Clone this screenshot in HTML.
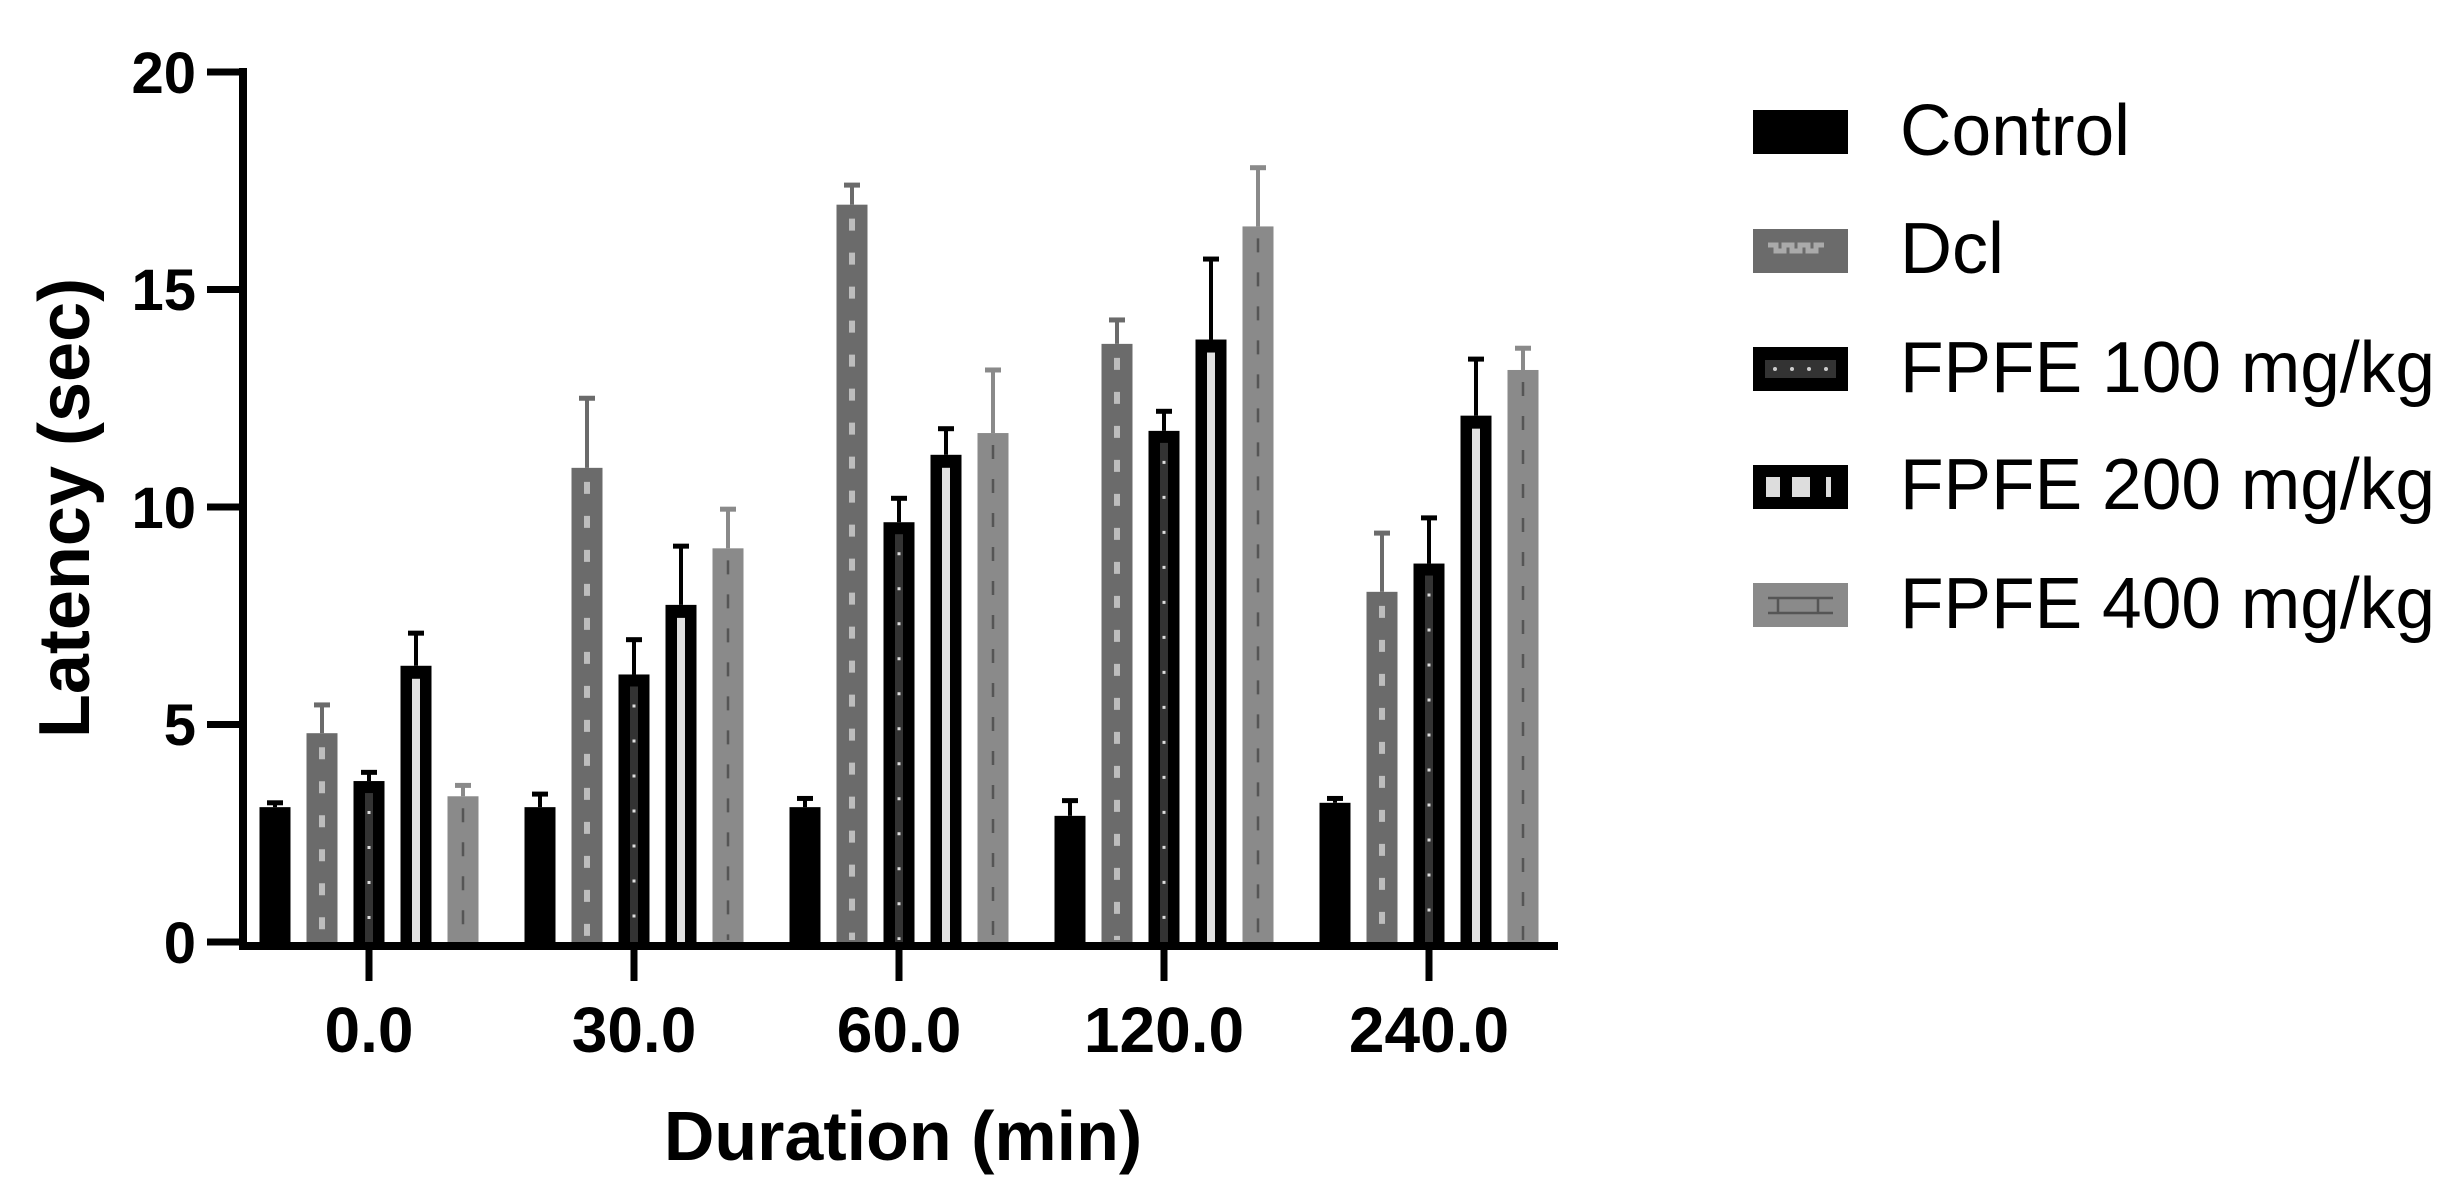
<!DOCTYPE html>
<html><head><meta charset="utf-8"><style>
html,body{margin:0;padding:0;background:#fff;}
svg{display:block;}
text{font-family:"Liberation Sans",Arial,sans-serif;}
</style></head><body>
<svg id="s" width="2464" height="1192" viewBox="0 0 2464 1192" xmlns="http://www.w3.org/2000/svg">
<rect width="2464" height="1192" fill="#fff"/>
<g id="bars"></g>
<!-- axes -->
<line x1="243" y1="68" x2="243" y2="946" stroke="#000" stroke-width="8"/>
<line x1="239" y1="946" x2="1558" y2="946" stroke="#000" stroke-width="8"/>
<g stroke="#000" stroke-width="7">
<line x1="207" y1="72" x2="243" y2="72"/>
<line x1="207" y1="289.5" x2="243" y2="289.5"/>
<line x1="207" y1="507" x2="243" y2="507"/>
<line x1="207" y1="724.5" x2="243" y2="724.5"/>
<line x1="207" y1="942" x2="243" y2="942"/>
<line x1="369" y1="946" x2="369" y2="981"/>
<line x1="634" y1="946" x2="634" y2="981"/>
<line x1="899" y1="946" x2="899" y2="981"/>
<line x1="1164" y1="946" x2="1164" y2="981"/>
<line x1="1429" y1="946" x2="1429" y2="981"/>
</g>
<g font-weight="bold" font-size="58" text-anchor="end">
<text x="196" y="93">20</text>
<text x="196" y="310">15</text>
<text x="196" y="528">10</text>
<text x="196" y="745">5</text>
<text x="196" y="963">0</text>
</g>
<g font-weight="bold" font-size="64" text-anchor="middle">
<text x="369" y="1052">0.0</text>
<text x="634" y="1052">30.0</text>
<text x="899" y="1052">60.0</text>
<text x="1164" y="1052">120.0</text>
<text x="1429" y="1052">240.0</text>
</g>
<text x="903" y="1160" font-weight="bold" font-size="70" text-anchor="middle">Duration (min)</text>
<text transform="translate(89,508) rotate(-90)" font-weight="bold" font-size="72" text-anchor="middle">Latency (sec)</text>
<!-- legend -->
<rect x="1753" y="110" width="95" height="44" fill="#000"/>
<rect x="1753" y="229" width="95" height="44" fill="#6b6b6b"/>
<path d="M1768 245 h8 v6 h8 v-6 h8 v6 h8 v-6 h8 v6 h8 v-6 h8" stroke="#aaa" stroke-width="5" fill="none"/>
<rect x="1753" y="347" width="95" height="44" fill="#000"/>
<rect x="1765" y="360" width="71" height="18" fill="#333"/>
<g fill="#ccc"><circle cx="1775" cy="369" r="2"/><circle cx="1792" cy="369" r="2"/><circle cx="1809" cy="369" r="2"/><circle cx="1826" cy="369" r="2"/></g>
<rect x="1753" y="465" width="95" height="44" fill="#000"/>
<rect x="1766" y="477" width="14" height="20" fill="#ddd"/>
<rect x="1792" y="477" width="18" height="20" fill="#ddd"/>
<rect x="1826" y="477" width="5" height="20" fill="#ddd"/>
<rect x="1753" y="583" width="95" height="44" fill="#8a8a8a"/>
<path d="M1768 598 h65 M1768 613 h65 M1778 598 v15 M1818 598 v15" stroke="#555" stroke-width="2.5" fill="none"/>
<g font-size="72">
<text x="1900" y="155" textLength="230" lengthAdjust="spacingAndGlyphs">Control</text>
<text x="1900" y="273">Dcl</text>
<text x="1900" y="392" textLength="535" lengthAdjust="spacingAndGlyphs">FPFE 100 mg/kg</text>
<text x="1900" y="509" textLength="535" lengthAdjust="spacingAndGlyphs">FPFE 200 mg/kg</text>
<text x="1900" y="628" textLength="535" lengthAdjust="spacingAndGlyphs">FPFE 400 mg/kg</text>
</g>
</svg>
<script>
var data=[
[[3.1,3.2],[4.8,5.45],[3.7,3.9],[6.35,7.1],[3.35,3.6]],
[[3.1,3.4],[10.9,12.5],[6.15,6.95],[7.75,9.1],[9.05,9.95]],
[[3.1,3.3],[16.95,17.4],[9.65,10.2],[11.2,11.8],[11.7,13.15]],
[[2.9,3.25],[13.75,14.3],[11.75,12.2],[13.85,15.7],[16.45,17.8]],
[[3.2,3.3],[8.05,9.4],[8.7,9.75],[12.1,13.4],[13.15,13.65]]];
var C=[369,634,899,1164,1429],off=[-94,-47,0,47,94];
function y(v){return 942-43.5*v;}
var h='';
for(var g=0;g<5;g++)for(var s=0;s<5;s++){
 var cx=C[g]+off[s],x=cx-15.5,w=31,t=y(data[g][s][0]),e=y(data[g][s][1]),bh=942-t;
 var ec='#000';
 if(s==0){h+='<rect x="'+x+'" y="'+t+'" width="'+w+'" height="'+bh+'" fill="#000"/>';}
 if(s==1){ec='#6b6b6b';h+='<rect x="'+x+'" y="'+t+'" width="'+w+'" height="'+bh+'" fill="#6b6b6b"/>';
  h+='<line x1="'+cx+'" y1="'+(t+14)+'" x2="'+cx+'" y2="940" stroke="#bdbdbd" stroke-width="6" stroke-dasharray="12 22"/>';}
 if(s==2){h+='<rect x="'+x+'" y="'+t+'" width="'+w+'" height="'+bh+'" fill="#000"/>';
  h+='<rect x="'+(cx-4)+'" y="'+(t+12)+'" width="8" height="'+(bh-12)+'" fill="#333"/>';
  h+='<line x1="'+cx+'" y1="'+(t+30)+'" x2="'+cx+'" y2="940" stroke="#ddd" stroke-width="3" stroke-dasharray="3 32"/>';}
 if(s==3){h+='<rect x="'+x+'" y="'+t+'" width="'+w+'" height="'+bh+'" fill="#000"/>';
  h+='<rect x="'+(cx-4)+'" y="'+(t+13)+'" width="8" height="'+(bh-13)+'" fill="#e0e0e0"/>';}
 if(s==4){ec='#8a8a8a';h+='<rect x="'+x+'" y="'+t+'" width="'+w+'" height="'+bh+'" fill="#8a8a8a"/>';
  h+='<line x1="'+cx+'" y1="'+(t+12)+'" x2="'+cx+'" y2="940" stroke="#555" stroke-width="2.5" stroke-dasharray="14 20"/>';}
 h+='<line x1="'+cx+'" y1="'+e+'" x2="'+cx+'" y2="'+t+'" stroke="'+ec+'" stroke-width="4"/>';
 h+='<line x1="'+(cx-8)+'" y1="'+e+'" x2="'+(cx+8)+'" y2="'+e+'" stroke="'+ec+'" stroke-width="5"/>';
}
document.getElementById('bars').innerHTML=h;
</script>
</body></html>
